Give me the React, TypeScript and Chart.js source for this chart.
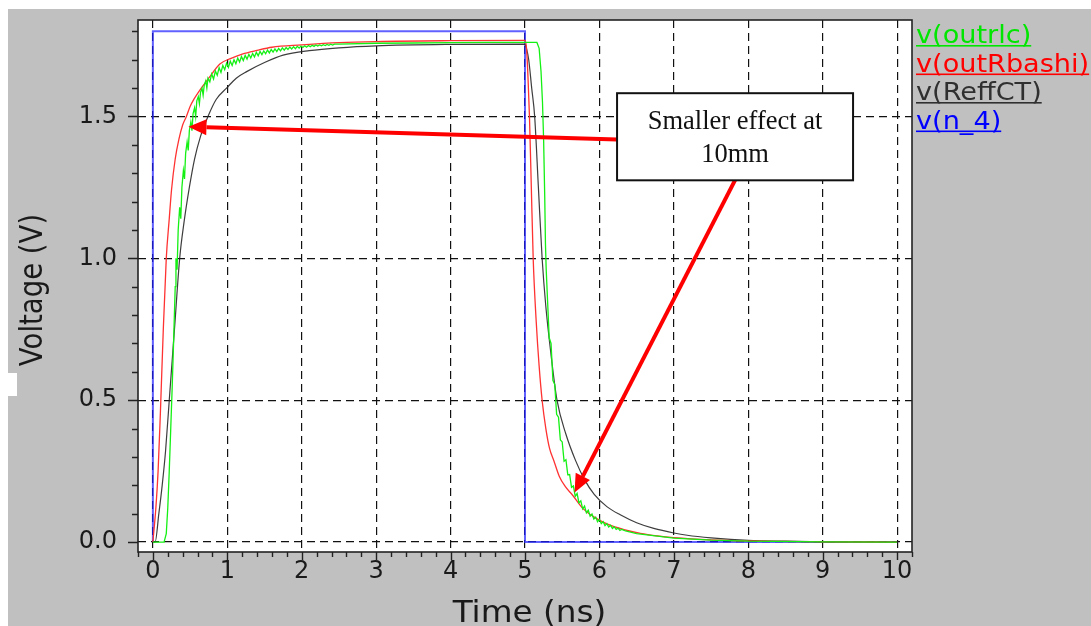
import React, { useEffect, useRef } from 'react';
import { Chart, registerables } from 'chart.js';

Chart.register(...registerables);

// ---------- data (time in ns, voltage in V) ----------
const seriesLabels = ['v(outrlc)', 'v(outRbashi)', 'v(ReffCT)', 'v(n_4)'];
const seriesColors = ['#00e600', '#ff0000', '#303030', '#0000ff'];

const blueT = [0, 0, 5, 5, 10];
const blueV = [0, 1.8, 1.8, 0, 0];

const redT = [0, 0.04, 0.07, 0.1, 0.14, 0.18, 0.22, 0.25, 0.3, 0.35, 0.4, 0.45, 0.5, 0.55, 0.65, 0.75, 0.9, 1.05, 1.2, 1.4, 1.6, 2.0, 2.5, 3.0, 4.0, 5.0,
  5.02, 5.04, 5.06, 5.085, 5.11, 5.15, 5.19, 5.23, 5.28, 5.33, 5.39, 5.46, 5.54, 5.64, 5.78, 5.93, 6.1, 6.33, 6.55, 6.78, 7.0, 7.5, 8.0, 9.0, 10.0];
const redV = [0, 0.12, 0.25, 0.45, 0.75, 1.0, 1.14, 1.24, 1.35, 1.42, 1.47, 1.5, 1.535, 1.56, 1.6, 1.635, 1.685, 1.705, 1.72, 1.733, 1.744, 1.752, 1.76, 1.764, 1.767, 1.768,
  1.74, 1.64, 1.5, 1.25, 1.0, 0.78, 0.62, 0.5, 0.4, 0.33, 0.285, 0.232, 0.196, 0.165, 0.118, 0.088, 0.064, 0.044, 0.031, 0.022, 0.016, 0.008, 0.004, 0.001, 0];

const blackT = [0, 0.03, 0.08, 0.125, 0.17, 0.22, 0.29, 0.36, 0.42, 0.49, 0.56, 0.64, 0.74, 0.85, 0.99, 1.12, 1.26, 1.5, 1.75, 2.1, 2.5, 3.0, 4.0, 5.0,
  5.02, 5.05, 5.09, 5.13, 5.18, 5.23, 5.28, 5.35, 5.43, 5.55, 5.68, 5.8, 5.93, 6.1, 6.28, 6.5, 6.73, 7.0, 7.18, 7.5, 8.0, 8.5, 9.0, 10.0];
const blackV = [0, 0, 0.1, 0.2, 0.32, 0.5, 0.75, 1.0, 1.13, 1.25, 1.35, 1.43, 1.5, 1.56, 1.6, 1.635, 1.658, 1.69, 1.716, 1.732, 1.742, 1.749, 1.754, 1.755,
  1.74, 1.7, 1.6, 1.5, 1.25, 1.0, 0.83, 0.66, 0.5, 0.38, 0.287, 0.22, 0.168, 0.125, 0.096, 0.068, 0.048, 0.032, 0.024, 0.015, 0.006, 0.003, 0.001, 0];

const greenT = [0, 0.15, 0.18, 0.2, 0.22, 0.24, 0.26, 0.28, 0.3, 0.31, 0.325, 0.34, 0.36, 0.375, 0.39, 0.41, 0.425, 0.44, 0.46, 0.475,
  0.49, 0.51, 0.525, 0.54, 0.56, 0.575, 0.59, 0.61, 0.625, 0.64, 0.66, 0.675, 0.69, 0.71, 0.725, 0.74, 0.765, 0.79, 0.815, 0.84,
  0.865, 0.89, 0.915, 0.94, 0.965, 0.99, 1.015, 1.04, 1.065, 1.09, 1.115, 1.14, 1.165, 1.19, 1.215, 1.24, 1.265, 1.29, 1.315, 1.34,
  1.365, 1.39, 1.415, 1.44, 1.465, 1.49, 1.515, 1.54, 1.565, 1.59, 1.615, 1.64, 1.665, 1.69, 1.715, 1.74, 1.765, 1.79, 1.815, 1.84,
  1.865, 1.89, 1.915, 1.94, 1.965, 1.99, 2.015, 2.04, 2.065, 2.09, 2.115, 2.14, 2.165, 2.19, 2.215, 2.24, 2.265, 2.29, 2.315, 2.34,
  2.365, 2.39, 2.415, 2.44, 2.5, 3.0, 3.5, 4.0, 4.5, 5.16,
  5.19, 5.215, 5.235, 5.25, 5.265, 5.275, 5.285, 5.3, 5.325, 5.35, 5.375, 5.4, 5.425, 5.45, 5.475, 5.5, 5.525, 5.55, 5.575, 5.6,
  5.625, 5.65, 5.675, 5.7, 5.725, 5.75, 5.775, 5.8, 5.825, 5.85, 5.875, 5.9, 5.925, 5.95, 5.975, 6.0, 6.025, 6.05, 6.075, 6.1,
  6.125, 6.15, 6.175, 6.2, 6.225, 6.25, 6.275, 6.3, 6.35, 6.5, 7.0, 7.5, 8.0, 9.0, 10.0];
const greenV = [0, 0, 0.03, 0.12, 0.25, 0.4, 0.55, 0.72, 0.9, 1.0, 0.96, 1.1, 1.18, 1.14, 1.25, 1.31, 1.28, 1.37, 1.41, 1.38,
  1.45, 1.48, 1.45, 1.51, 1.53, 1.5, 1.555, 1.57, 1.545, 1.585, 1.6, 1.575, 1.61, 1.625, 1.6, 1.635, 1.622, 1.65, 1.632, 1.66,
  1.645, 1.672, 1.655, 1.68, 1.665, 1.688, 1.673, 1.695, 1.68, 1.7, 1.686, 1.706, 1.692, 1.711, 1.697, 1.715, 1.702, 1.719, 1.706, 1.722,
  1.71, 1.726, 1.714, 1.729, 1.718, 1.731, 1.721, 1.734, 1.724, 1.736, 1.727, 1.738, 1.729, 1.74, 1.731, 1.742, 1.734, 1.743, 1.736, 1.745,
  1.738, 1.746, 1.739, 1.747, 1.741, 1.748, 1.743, 1.749, 1.744, 1.75, 1.746, 1.751, 1.747, 1.752, 1.748, 1.752, 1.749, 1.753, 1.75, 1.754,
  1.751, 1.755, 1.752, 1.755, 1.755, 1.758, 1.759, 1.76, 1.761, 1.761,
  1.74, 1.66, 1.55, 1.42, 1.22, 1.05, 0.96, 0.87, 0.72, 0.7, 0.57, 0.555, 0.45, 0.44, 0.36, 0.353, 0.285, 0.29, 0.237, 0.238,
  0.193, 0.198, 0.161, 0.171, 0.138, 0.145, 0.117, 0.127, 0.103, 0.112, 0.091, 0.099, 0.081, 0.088, 0.072, 0.08, 0.065, 0.072, 0.058, 0.065,
  0.053, 0.059, 0.048, 0.054, 0.045, 0.049, 0.041, 0.045, 0.039, 0.03, 0.014, 0.007, 0.003, 0.001, 0];

// ---------- axes ----------
const xMajorTicks = [0, 1, 2, 3, 4, 5, 6, 7, 8, 9, 10];
const xTickLabels = ['0', '1', '2', '3', '4', '5', '6', '7', '8', '9', '10'];
const xMinorStep = 0.2;
const yMajorTicks = [0, 0.5, 1.0, 1.5];
const yTickLabels = ['0.0', '0.5', '1.0', '1.5'];
const yMinorStep = 0.1;
const yMinorMax = 1.8;
const xTitle = 'Time (ns)';
const yTitle = 'Voltage (V)';

// ---------- annotation (data units) ----------
const noteLines = ['Smaller effect at', '10mm'];
const noteBox = { t1: 6.237, t2: 9.408, vTop: 1.582, vBottom: 1.275 };
const arrowA = { fromT: 6.8, fromV: 1.414, toT: 0.478, toV: 1.464 };
const arrowB = { fromT: 7.89, fromV: 1.31, toT: 5.666, toV: 0.175 };

const pts = (t: number[], v: number[]) => t.map((x, i) => ({ x, y: v[i] }));
const near = (a: number, b: number) => Math.abs(a - b) < 1e-6;
const isXMajor = (v: number) => xMajorTicks.some((m) => near(m, v));
const isYMajor = (v: number) => yMajorTicks.some((m) => near(m, v));

function drawArrow(ctx: CanvasRenderingContext2D, x1: number, y1: number, x2: number, y2: number) {
  const ang = Math.atan2(y2 - y1, x2 - x1);
  const hl = 18, hw = 8;
  const bx = x2 - hl * Math.cos(ang), by = y2 - hl * Math.sin(ang);
  ctx.strokeStyle = '#ff0000';
  ctx.lineWidth = 4;
  ctx.lineCap = 'butt';
  ctx.beginPath();
  ctx.moveTo(x1, y1);
  ctx.lineTo(bx, by);
  ctx.stroke();
  ctx.fillStyle = '#ff0000';
  ctx.beginPath();
  ctx.moveTo(x2, y2);
  ctx.lineTo(bx + hw * Math.sin(ang), by - hw * Math.cos(ang));
  ctx.lineTo(bx - hw * Math.sin(ang), by + hw * Math.cos(ang));
  ctx.closePath();
  ctx.fill();
}

const overlay = {
  id: 'overlay',
  beforeDraw(chart: any) {
    const { ctx, chartArea: a } = chart;
    ctx.save();
    ctx.fillStyle = '#ffffff';
    ctx.fillRect(0, 0, chart.width, chart.height);
    ctx.fillStyle = '#c0c0c0';
    ctx.fillRect(8, 9, chart.width - 8, chart.height - 9);
    ctx.fillStyle = '#ffffff';
    ctx.fillRect(8, 373, 9, 23);
    ctx.fillRect(a.left, a.top, a.right - a.left, a.bottom - a.top);
    ctx.restore();
  },
  afterDatasetsDraw(chart: any) {
    const { ctx, chartArea: a } = chart;
    const xs = chart.scales.x, ys = chart.scales.y;
    ctx.save();
    // frame
    ctx.strokeStyle = '#222';
    ctx.lineWidth = 1.6;
    ctx.strokeRect(a.left, a.top, a.right - a.left, a.bottom - a.top);
    // tick marks
    ctx.lineWidth = 1.4;
    ctx.beginPath();
    for (const t of xs.ticks) {
      const p = Math.round(xs.getPixelForValue(t.value)) + 0.5;
      ctx.moveTo(p, a.bottom);
      ctx.lineTo(p, a.bottom + (isXMajor(t.value) ? 8 : 5));
    }
    for (const t of ys.ticks) {
      const p = Math.round(ys.getPixelForValue(t.value)) + 0.5;
      ctx.moveTo(a.left, p);
      ctx.lineTo(a.left - (isYMajor(t.value) ? 10 : 6), p);
    }
    ctx.stroke();

    // arrows
    drawArrow(ctx, xs.getPixelForValue(arrowA.fromT), ys.getPixelForValue(arrowA.fromV), xs.getPixelForValue(arrowA.toT), ys.getPixelForValue(arrowA.toV));
    drawArrow(ctx, xs.getPixelForValue(arrowB.fromT), ys.getPixelForValue(arrowB.fromV), xs.getPixelForValue(arrowB.toT), ys.getPixelForValue(arrowB.toV));

    // note box
    const bx1 = xs.getPixelForValue(noteBox.t1), bx2 = xs.getPixelForValue(noteBox.t2);
    const by1 = ys.getPixelForValue(noteBox.vTop), by2 = ys.getPixelForValue(noteBox.vBottom);
    ctx.fillStyle = '#ffffff';
    ctx.fillRect(bx1, by1, bx2 - bx1, by2 - by1);
    ctx.strokeStyle = '#111';
    ctx.lineWidth = 2;
    ctx.strokeRect(bx1, by1, bx2 - bx1, by2 - by1);
    ctx.fillStyle = '#111';
    ctx.font = '26.5px "Liberation Serif", serif';
    ctx.textAlign = 'center';
    ctx.textBaseline = 'alphabetic';
    const cx = (bx1 + bx2) / 2;
    ctx.fillText(noteLines[0], cx, by1 + 36);
    ctx.fillText(noteLines[1], cx, by1 + 69);

    // legend
    ctx.textAlign = 'left';
    ctx.font = '24px "DejaVu Sans"';
    chart.data.datasets.forEach((ds: any, i: number) => {
      const base = 43 + i * 28.5;
      const x0 = a.right + 4;
      const sx = 1.13;
      ctx.save();
      ctx.translate(x0, base);
      ctx.scale(sx, 1);
      ctx.fillStyle = ds.legendColor;
      ctx.fillText(ds.label, 0, 0);
      ctx.restore();
      const w = ctx.measureText(ds.label).width * sx;
      ctx.fillStyle = ds.legendColor;
      ctx.fillRect(x0, base + 2, w, 1.6);
    });

    // axis titles
    ctx.fillStyle = '#1a1a1a';
    ctx.font = '30px "DejaVu Sans"';
    ctx.textAlign = 'center';
    ctx.save();
    ctx.translate(529.5, 622);
    ctx.scale(1.09, 1);
    ctx.fillText(xTitle, 0, 0);
    ctx.restore();
    ctx.font = '32px "DejaVu Sans"';
    ctx.save();
    ctx.translate(42, 290);
    ctx.rotate(-Math.PI / 2);
    ctx.scale(0.86, 1);
    ctx.fillText(yTitle, 0, 0);
    ctx.restore();

    ctx.restore();
  },
};

export default function App() {
  const ref = useRef<HTMLCanvasElement | null>(null);
  useEffect(() => {
    if (!ref.current) return;
    const mk = (i: number, t: number[], v: number[], width: number, color: string, order: number, mono: boolean) => ({
      label: seriesLabels[i],
      legendColor: seriesColors[i],
      data: pts(t, v),
      borderColor: color,
      borderWidth: width,
      pointRadius: 0,
      tension: 0,
      cubicInterpolationMode: mono ? 'monotone' : 'default',
      order,
    });
    const chart = new Chart(ref.current, {
      type: 'line',
      data: {
        datasets: [
          mk(0, greenT, greenV, 1.3, 'rgb(20,240,20)', 0, false),
          mk(1, redT, redV, 1.3, 'rgb(255,50,50)', 1, true),
          mk(2, blackT, blackV, 1.2, 'rgba(40,40,40,0.9)', 2, true),
          mk(3, blueT, blueV, 2, 'rgba(30,30,255,0.7)', 3, false),
        ] as any,
      },
      options: {
        animation: false,
        responsive: false,
        parsing: false as any,
        normalized: true,
        layout: { padding: { left: 8, top: 20, right: 179, bottom: 0 } },
        plugins: { legend: { display: false }, tooltip: { enabled: false } },
        events: [],
        scales: {
          x: {
            type: 'linear',
            min: -0.2,
            max: 10.2,
            afterBuildTicks: (s: any) => {
              const arr = [];
              for (let k = -1; k <= 51; k++) arr.push({ value: +(k * xMinorStep).toFixed(3) });
              s.ticks = arr;
            },
            afterFit: (s: any) => { s.height = 74; s.paddingLeft = 0; s.paddingRight = 0; },
            grid: {
              drawTicks: false,
              color: '#111',
              lineWidth: (c: any) => (c.tick && isXMajor(c.tick.value) && c.tick.value >= 0 ? 1.2 : 0),
            },
            border: { display: false, dash: [8, 5] },
            ticks: {
              autoSkip: false,
              maxRotation: 0,
              minRotation: 0,
              padding: 5,
              color: '#1a1a1a',
              font: { family: 'DejaVu Sans', size: 24 },
              callback: (v: any) => {
                const i = xMajorTicks.findIndex((m) => near(m, Number(v)));
                return i >= 0 ? xTickLabels[i] : '';
              },
            },
          },
          y: {
            type: 'linear',
            min: -0.035,
            max: 1.84,
            afterBuildTicks: (s: any) => {
              const arr = [];
              for (let k = 0; k * yMinorStep <= yMinorMax + 1e-9; k++) arr.push({ value: +(k * yMinorStep).toFixed(3) });
              s.ticks = arr;
            },
            afterFit: (s: any) => { s.width = 130; s.paddingTop = 0; s.paddingBottom = 0; },
            grid: {
              drawTicks: false,
              color: '#111',
              lineWidth: (c: any) => (c.tick && isYMajor(c.tick.value) ? 1.2 : 0),
            },
            border: { display: false, dash: [8, 5] },
            ticks: {
              autoSkip: false,
              padding: 21,
              color: '#1a1a1a',
              font: { family: 'DejaVu Sans', size: 24 },
              callback: (v: any) => {
                const i = yMajorTicks.findIndex((m) => near(m, Number(v)));
                return i >= 0 ? yTickLabels[i] : '';
              },
            },
          },
        },
      } as any,
      plugins: [overlay],
    });
    return () => chart.destroy();
  }, []);
  return (
    <canvas
      ref={ref}
      width={1091}
      height={626}
      style={{ position: 'absolute', left: 0, top: 0, width: 1091, height: 626, display: 'block' }}
    />
  );
}
